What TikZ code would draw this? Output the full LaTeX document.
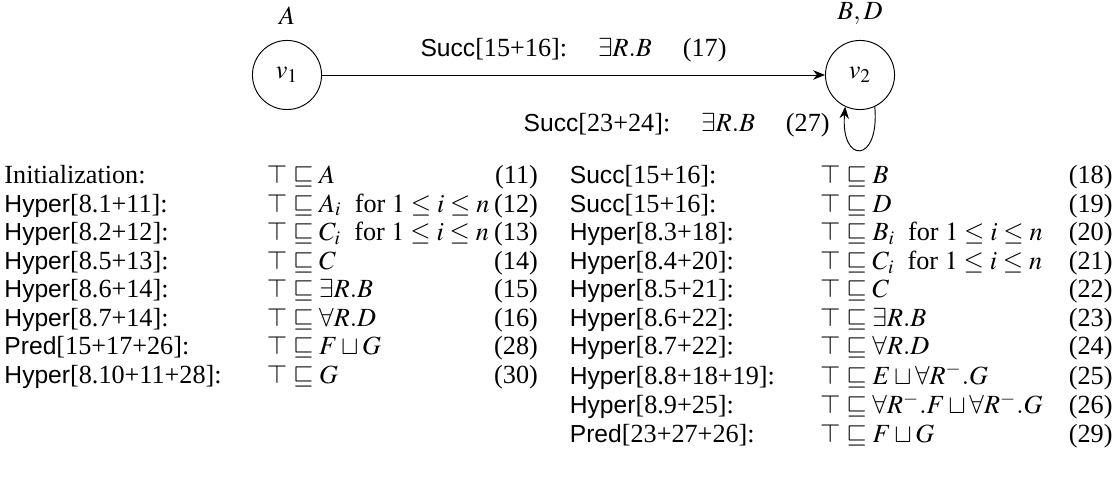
\documentclass[tikz,border=0pt]{standalone}
\usepackage{mathptmx}
\usepackage[no-math]{fontspec}
\setmainfont{Liberation Serif}
\setsansfont{Liberation Sans}[Scale=0.94]
\usetikzlibrary{arrows.meta}
\begin{document}
\begin{tikzpicture}[x=0.42pt,y=-0.42pt,
  font=\fontsize{11}{12}\selectfont,
  vert/.style={circle,draw,minimum size=1.02cm,inner sep=0pt},
  edge/.style={-{Stealth[length=5pt,width=4pt]},thin},
  tab/.style={inner sep=0pt}]
\useasboundingbox (0,0) rectangle (1118,481);
\node[vert,label={[label distance=3pt]above:$A$}] (v1) at (287,75) {$v_1$};
\node[vert,label={[label distance=3pt]above:$B, D$}] (v2) at (860,75) {$v_2$};
\draw[edge] (v1) -- node[above=2pt] (e1) {\textsf{Succ}[15+16]:\hspace{13pt}$\exists R.B$\hspace{13pt}(17)} (v2);
\draw[edge] (v2.-65) to[out=-85,in=-95,looseness=5] node[pos=0.88,left=3pt] (e2) {\textsf{Succ}[23+24]:\hspace{13pt}$\exists R.B$\hspace{13pt}(27)} (v2.-115);
\node[tab,anchor=north west] (lt) at (4,163) {\begin{tabular}{@{}l@{\hspace{19pt}}l@{\hspace{2pt}}r@{}}
Initialization: & $\top \sqsubseteq A$ & (11)\\
\textsf{Hyper}[8.1+11]: & $\top \sqsubseteq A_i$\ \ for $1 \leq i \leq n$ & (12)\\
\textsf{Hyper}[8.2+12]: & $\top \sqsubseteq C_i$\ \ for $1 \leq i \leq n$ & (13)\\
\textsf{Hyper}[8.5+13]: & $\top \sqsubseteq C$ & (14)\\
\textsf{Hyper}[8.6+14]: & $\top \sqsubseteq \exists R.B$ & (15)\\
\textsf{Hyper}[8.7+14]: & $\top \sqsubseteq \forall R.D$ & (16)\\
\textsf{Pred}[15+17+26]: & $\top \sqsubseteq F \sqcup G$ & (28)\\
\textsf{Hyper}[8.10+11+28]: & $\top \sqsubseteq G$ & (30)
\end{tabular}};
\node[tab,anchor=north east] (rt) at (1113,163) {\begin{tabular}{@{}l@{\hspace{19pt}}l@{\hspace{11pt}}r@{}}
\textsf{Succ}[15+16]: & $\top \sqsubseteq B$ & (18)\\
\textsf{Succ}[15+16]: & $\top \sqsubseteq D$ & (19)\\
\textsf{Hyper}[8.3+18]: & $\top \sqsubseteq B_i$\ \ for $1 \leq i \leq n$ & (20)\\
\textsf{Hyper}[8.4+20]: & $\top \sqsubseteq C_i$\ \ for $1 \leq i \leq n$ & (21)\\
\textsf{Hyper}[8.5+21]: & $\top \sqsubseteq C$ & (22)\\
\textsf{Hyper}[8.6+22]: & $\top \sqsubseteq \exists R.B$ & (23)\\
\textsf{Hyper}[8.7+22]: & $\top \sqsubseteq \forall R.D$ & (24)\\
\textsf{Hyper}[8.8+18+19]: & $\top \sqsubseteq E \sqcup \forall R^{-}.G$ & (25)\\
\textsf{Hyper}[8.9+25]: & $\top \sqsubseteq \forall R^{-}.F \sqcup \forall R^{-}.G$ & (26)\\
\textsf{Pred}[23+27+26]: & $\top \sqsubseteq F \sqcup G$ & (29)
\end{tabular}};
\end{tikzpicture}
\end{document}
